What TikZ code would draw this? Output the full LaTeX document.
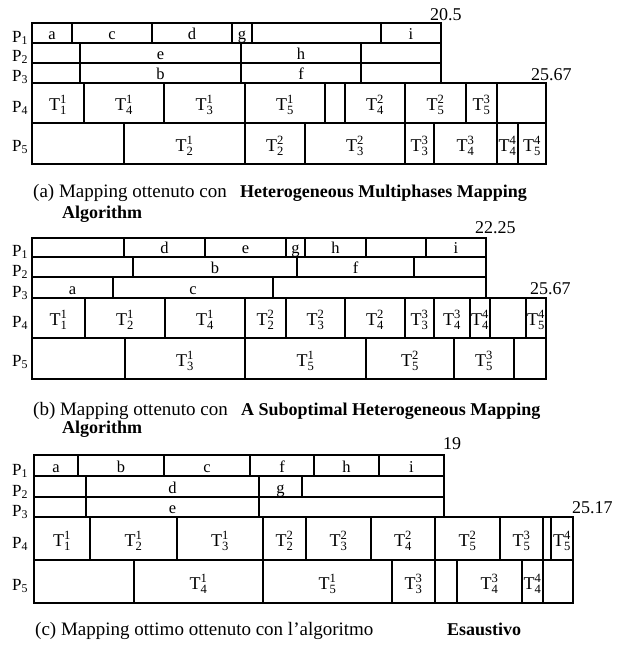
\documentclass[tikz,border=0pt]{standalone}
\usepackage{amsmath}
\usepackage{fontspec}
\setmainfont{Liberation Serif}
\usepackage{tikz}

\newcommand{\tsk}[2]{T$^{\text{#1}}_{\text{#2}}$}
\newcommand{\procP}[1]{P$_{\text{#1}}$}

\begin{document}
\begin{tikzpicture}[x=1pt,y=-1pt,every node/.style={inner sep=0pt},
  cell/.style={draw,line width=1.2pt},
  job/.style={font=\fontsize{16.5}{16.5}\selectfont,anchor=base},
  task/.style={font=\fontsize{18}{18}\selectfont,anchor=base},
  proc/.style={font=\fontsize{17}{17}\selectfont,anchor=base west},
  tval/.style={font=\fontsize{18}{18}\selectfont,anchor=base west},
  capt/.style={font=\fontsize{19}{19}\selectfont,anchor=base west},
  captb/.style={font=\fontsize{18}{18}\selectfont\bfseries,anchor=base west}]
\useasboundingbox[fill=white] (0,0) rectangle (617,648);

% ---------- (a) Heterogeneous Multiphases ----------
\foreach \xa/\xb/\lbl in {32/72/a,72/152/c,152/232/d,232/252/g,252/381/{},381/441/i}{
  \draw[cell] (\xa,23) rectangle (\xb,43);
  \node[job] (a1-\xa) at ({(\xa+\xb)/2},39) {\lbl};
}
\foreach \xa/\xb/\lbl in {32/80/{},80/241/e,241/361/h,361/441/{}}{
  \draw[cell] (\xa,43) rectangle (\xb,63);
  \node[job] (a2-\xa) at ({(\xa+\xb)/2},59) {\lbl};
}
\foreach \xa/\xb/\lbl in {32/80/{},80/241/b,241/361/f,361/441/{}}{
  \draw[cell] (\xa,63) rectangle (\xb,83);
  \node[job] (a3-\xa) at ({(\xa+\xb)/2},79) {\lbl};
}
\foreach \xa/\xb/\lbl in {32/84/\tsk{1}{1},84/164/\tsk{1}{4},164/245/\tsk{1}{3},245/325/\tsk{1}{5},
    325/345/{},345/405/\tsk{2}{4},405/466/\tsk{2}{5},466/497/\tsk{3}{5},497/546/{}}{
  \draw[cell] (\xa,83) rectangle (\xb,123);
  \node[task] (a4-\xa) at ({(\xa+\xb)/2},110) {\lbl};
}
\foreach \xa/\xb/\lbl in {32/124/{},124/245/\tsk{1}{2},245/305/\tsk{2}{2},305/405/\tsk{2}{3},
    405/434/\tsk{3}{3},434/497/\tsk{3}{4},497/518/\tsk{4}{4},518/546/\tsk{4}{5}}{
  \draw[cell] (\xa,123) rectangle (\xb,164);
  \node[task] (a5-\xa) at ({(\xa+\xb)/2},151) {\lbl};
}
\foreach \i/\y in {1/42,2/61,3/81,4/112,5/151}{
  \node[proc] (pa\i) at (12,\y) {\procP{\i}};
}
\node[tval] (enda1) at (430,20) {20.5};
\node[tval] (enda2) at (531,80) {25.67};
\node[capt] (capa) at (33,197) {(a) Mapping ottenuto con};
\node[captb] (capab) at (240,197) {Heterogeneous Multiphases Mapping};
\node[captb] (capac) at (62,218) {Algorithm};

% ---------- (b) Suboptimal Heterogeneous ----------
\foreach \xa/\xb/\lbl in {32/124/{},124/205/d,205/286/e,286/305/g,305/366/h,366/426/{},426/486/i}{
  \draw[cell] (\xa,238) rectangle (\xb,257);
  \node[job] (b1-\xa) at ({(\xa+\xb)/2},253) {\lbl};
}
\foreach \xa/\xb/\lbl in {32/133/{},133/297/b,297/414/f,414/486/{}}{
  \draw[cell] (\xa,257) rectangle (\xb,277);
  \node[job] (b2-\xa) at ({(\xa+\xb)/2},273) {\lbl};
}
\foreach \xa/\xb/\lbl in {32/113/a,113/273/c,273/486/{}}{
  \draw[cell] (\xa,277) rectangle (\xb,298);
  \node[job] (b3-\xa) at ({(\xa+\xb)/2},294) {\lbl};
}
\foreach \xa/\xb/\lbl in {32/85/\tsk{1}{1},85/165/\tsk{1}{2},165/245/\tsk{1}{4},245/286/\tsk{2}{2},
    286/345/\tsk{2}{3},345/405/\tsk{2}{4},405/434/\tsk{3}{3},434/470/\tsk{3}{4},470/490/\tsk{4}{4},
    490/526/{},526/546/\tsk{4}{5}}{
  \draw[cell] (\xa,298) rectangle (\xb,338);
  \node[task] (b4-\xa) at ({(\xa+\xb)/2},325) {\lbl};
}
\foreach \xa/\xb/\lbl in {32/125/{},125/245/\tsk{1}{3},245/366/\tsk{1}{5},366/454/\tsk{2}{5},
    454/514/\tsk{3}{5},514/546/{}}{
  \draw[cell] (\xa,338) rectangle (\xb,379);
  \node[task] (b5-\xa) at ({(\xa+\xb)/2},366) {\lbl};
}
\foreach \i/\y in {1/256,2/276,3/297,4/327,5/366}{
  \node[proc] (pb\i) at (12,\y) {\procP{\i}};
}
\node[tval] (endb1) at (475,233) {22.25};
\node[tval] (endb2) at (530,294) {25.67};
\node[capt] (capb) at (33,415) {(b) Mapping ottenuto con};
\node[captb] (capbb) at (241,415) {A Suboptimal Heterogeneous Mapping};
\node[captb] (capbc) at (62,433) {Algorithm};

% ---------- (c) Esaustivo ----------
\foreach \xa/\xb/\lbl in {34/78/a,78/164/b,164/250/c,250/314/f,314/379/h,379/444/i}{
  \draw[cell] (\xa,455) rectangle (\xb,476);
  \node[job] (c1-\xa) at ({(\xa+\xb)/2},472) {\lbl};
}
\foreach \xa/\xb/\lbl in {34/86/{},86/259/d,259/302/g,302/444/{}}{
  \draw[cell] (\xa,476) rectangle (\xb,497);
  \node[job] (c2-\xa) at ({(\xa+\xb)/2},493) {\lbl};
}
\foreach \xa/\xb/\lbl in {34/86/{},86/259/e,259/444/{}}{
  \draw[cell] (\xa,497) rectangle (\xb,517);
  \node[job] (c3-\xa) at ({(\xa+\xb)/2},513) {\lbl};
}
\foreach \xa/\xb/\lbl in {34/90/\tsk{1}{1},90/177/\tsk{1}{2},177/263/\tsk{1}{3},263/306/\tsk{2}{2},
    306/371/\tsk{2}{3},371/435/\tsk{2}{4},435/500/\tsk{2}{5},500/543/\tsk{3}{5},543/551/{},
    551/573/\tsk{4}{5}}{
  \draw[cell] (\xa,517) rectangle (\xb,560);
  \node[task] (c4-\xa) at ({(\xa+\xb)/2},546) {\lbl};
}
\foreach \xa/\xb/\lbl in {34/134/{},134/263/\tsk{1}{4},263/392/\tsk{1}{5},392/435/\tsk{3}{3},
    435/457/{},457/522/\tsk{3}{4},522/543/\tsk{4}{4},543/573/{}}{
  \draw[cell] (\xa,560) rectangle (\xb,603);
  \node[task] (c5-\xa) at ({(\xa+\xb)/2},589) {\lbl};
}
\foreach \i/\y in {1/475,2/496,3/516,4/548,5/590}{
  \node[proc] (pc\i) at (12,\y) {\procP{\i}};
}
\node[tval] (endc1) at (443,449) {19};
\node[tval] (endc2) at (572,513) {25.17};
\node[capt] (capc) at (35,635) {(c) Mapping ottimo ottenuto con l'algoritmo};
\node[captb] (capcb) at (447,635) {Esaustivo};
\end{tikzpicture}
\end{document}
